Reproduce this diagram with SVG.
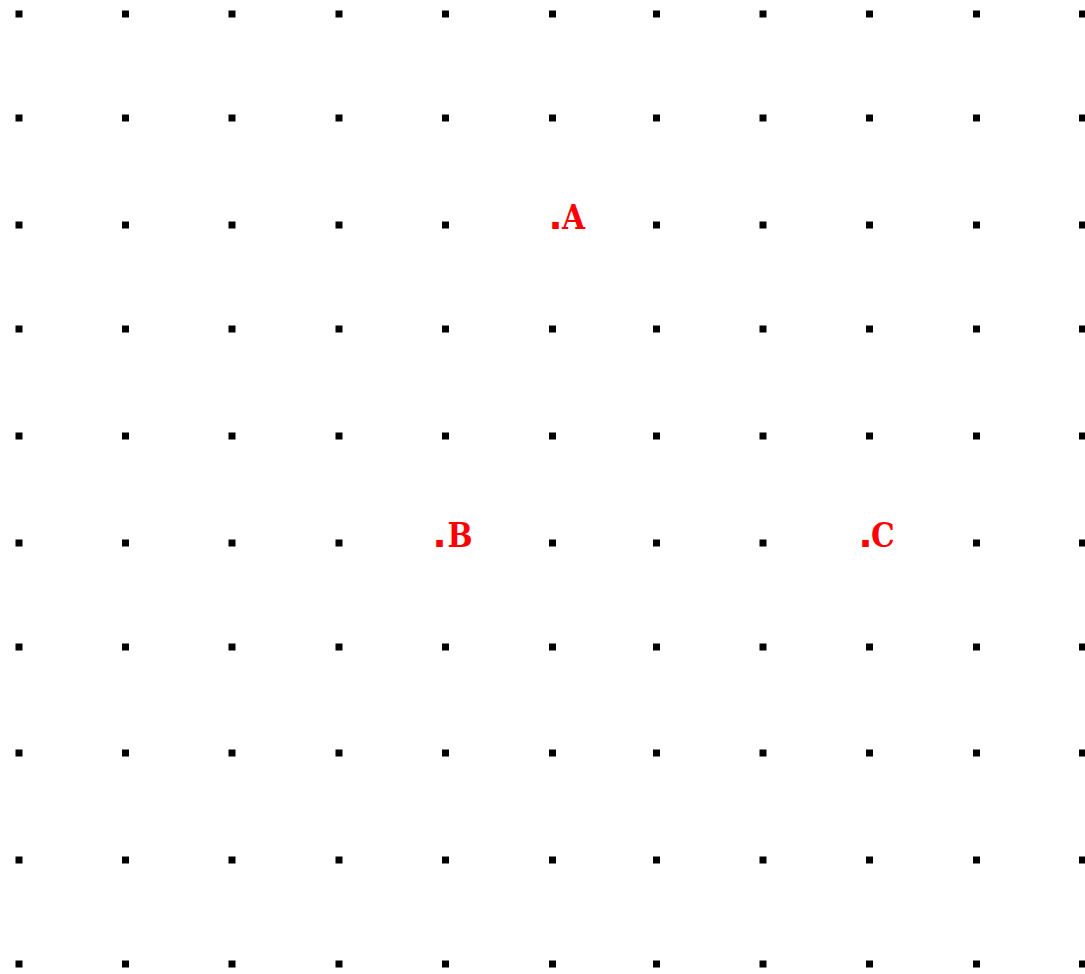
<svg xmlns="http://www.w3.org/2000/svg" width="1085" height="974" viewBox="0 0 1085 974">
<defs>
<style>
.d{fill:#000}
.lbl{font-family:"DejaVu Serif","Liberation Serif",serif;font-stretch:condensed;font-weight:bold;font-size:33px;fill:#ff0000}
.p{font-family:"DejaVu Sans",sans-serif;font-stretch:normal;font-weight:bold;font-size:37px}
</style>
<rect id="dot" class="d" x="-3.5" y="-3.5" width="7" height="7"/>
</defs>
<rect width="1085" height="974" fill="#fff"/>
<g id="grid">
<g id="row0" transform="translate(0,14)"><use href="#dot" x="19"/><use href="#dot" x="125.5"/><use href="#dot" x="232"/><use href="#dot" x="339"/><use href="#dot" x="445.5"/><use href="#dot" x="552.5"/><use href="#dot" x="656.5"/><use href="#dot" x="763"/><use href="#dot" x="869.5"/><use href="#dot" x="976.5"/><use href="#dot" x="1082.5"/></g>
<g id="row1" transform="translate(0,118)"><use href="#dot" x="19"/><use href="#dot" x="125.5"/><use href="#dot" x="232"/><use href="#dot" x="339"/><use href="#dot" x="445.5"/><use href="#dot" x="552.5"/><use href="#dot" x="656.5"/><use href="#dot" x="763"/><use href="#dot" x="869.5"/><use href="#dot" x="976.5"/><use href="#dot" x="1082.5"/></g>
<g id="row2" transform="translate(0,225)"><use href="#dot" x="19"/><use href="#dot" x="125.5"/><use href="#dot" x="232"/><use href="#dot" x="339"/><use href="#dot" x="445.5"/><use href="#dot" x="656.5"/><use href="#dot" x="763"/><use href="#dot" x="869.5"/><use href="#dot" x="976.5"/><use href="#dot" x="1082.5"/></g>
<g id="row3" transform="translate(0,329)"><use href="#dot" x="19"/><use href="#dot" x="125.5"/><use href="#dot" x="232"/><use href="#dot" x="339"/><use href="#dot" x="445.5"/><use href="#dot" x="552.5"/><use href="#dot" x="656.5"/><use href="#dot" x="763"/><use href="#dot" x="869.5"/><use href="#dot" x="976.5"/><use href="#dot" x="1082.5"/></g>
<g id="row4" transform="translate(0,436)"><use href="#dot" x="19"/><use href="#dot" x="125.5"/><use href="#dot" x="232"/><use href="#dot" x="339"/><use href="#dot" x="445.5"/><use href="#dot" x="552.5"/><use href="#dot" x="656.5"/><use href="#dot" x="763"/><use href="#dot" x="869.5"/><use href="#dot" x="976.5"/><use href="#dot" x="1082.5"/></g>
<g id="row5" transform="translate(0,543)"><use href="#dot" x="19"/><use href="#dot" x="125.5"/><use href="#dot" x="232"/><use href="#dot" x="339"/><use href="#dot" x="552.5"/><use href="#dot" x="656.5"/><use href="#dot" x="763"/><use href="#dot" x="976.5"/><use href="#dot" x="1082.5"/></g>
<g id="row6" transform="translate(0,647)"><use href="#dot" x="19"/><use href="#dot" x="125.5"/><use href="#dot" x="232"/><use href="#dot" x="339"/><use href="#dot" x="445.5"/><use href="#dot" x="552.5"/><use href="#dot" x="656.5"/><use href="#dot" x="763"/><use href="#dot" x="869.5"/><use href="#dot" x="976.5"/><use href="#dot" x="1082.5"/></g>
<g id="row7" transform="translate(0,753)"><use href="#dot" x="19"/><use href="#dot" x="125.5"/><use href="#dot" x="232"/><use href="#dot" x="339"/><use href="#dot" x="445.5"/><use href="#dot" x="552.5"/><use href="#dot" x="656.5"/><use href="#dot" x="763"/><use href="#dot" x="869.5"/><use href="#dot" x="976.5"/><use href="#dot" x="1082.5"/></g>
<g id="row8" transform="translate(0,860)"><use href="#dot" x="19"/><use href="#dot" x="125.5"/><use href="#dot" x="232"/><use href="#dot" x="339"/><use href="#dot" x="445.5"/><use href="#dot" x="552.5"/><use href="#dot" x="656.5"/><use href="#dot" x="763"/><use href="#dot" x="869.5"/><use href="#dot" x="976.5"/><use href="#dot" x="1082.5"/></g>
<g id="row9" transform="translate(0,964)"><use href="#dot" x="19"/><use href="#dot" x="125.5"/><use href="#dot" x="232"/><use href="#dot" x="339"/><use href="#dot" x="445.5"/><use href="#dot" x="552.5"/><use href="#dot" x="656.5"/><use href="#dot" x="763"/><use href="#dot" x="869.5"/><use href="#dot" x="976.5"/><use href="#dot" x="1082.5"/></g>
</g>
<g id="labels">
<g id="A"><text class="lbl" y="229"><tspan class="p" x="548.5">.</tspan><tspan x="562">A</tspan></text></g>
<g id="B"><text class="lbl" y="547"><tspan class="p" x="432.5">.</tspan><tspan x="447.5">B</tspan></text></g>
<g id="C"><text class="lbl" y="547"><tspan class="p" x="858.5">.</tspan><tspan x="871">C</tspan></text></g>
</g>
</svg>
